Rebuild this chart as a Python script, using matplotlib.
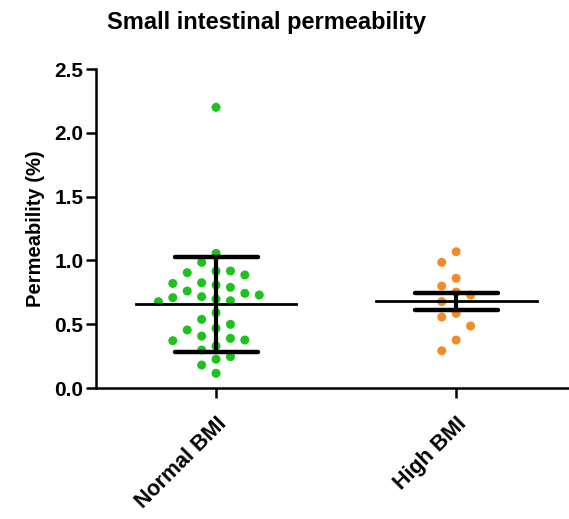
import numpy as np
import matplotlib.pyplot as plt

plt.rcParams['font.family'] = ['Liberation Sans', 'DejaVu Sans']

groups = ['Normal BMI', 'High BMI']
normal_bmi = [2.20, 1.055, 0.985, 0.917, 0.886, 0.904, 0.917, 0.825, 0.789, 0.760,
              0.807, 0.820, 0.729, 0.708, 0.684, 0.677, 0.697, 0.716, 0.742, 0.590,
              0.538, 0.499, 0.455, 0.468, 0.389, 0.376, 0.371, 0.407, 0.329, 0.298,
              0.225, 0.245, 0.180, 0.115]
high_bmi = [1.068, 0.985, 0.860, 0.799, 0.752, 0.729, 0.677, 0.585, 0.556, 0.486,
            0.376, 0.292]
error_kind = ['sd', 'sem']   # error bar type per group
colors = ['#1ec21e', '#f28c28']


def swarm_offsets(values, step=0.06, min_gap=0.1):
    # simple grid beeswarm: put each point in the slot nearest the centre
    # where it does not overlap a point already placed in that slot
    order = np.argsort(values)[::-1]
    slots = {}
    offs = np.zeros(len(values))
    cand = [0]
    for k in range(1, 10):
        cand += [-k, k]
    for i in order:
        v = values[i]
        for c in cand:
            taken = slots.get(c, [])
            if all(abs(v - t) >= min_gap for t in taken):
                slots.setdefault(c, []).append(v)
                offs[i] = c * step
                break
    return offs


fig = plt.figure(figsize=(5.69, 5.19), dpi=100)
ax = fig.add_axes([0.1687, 0.2524, 0.8313, 0.6146])

for pos, (vals, kind, col) in enumerate(zip([normal_bmi, high_bmi], error_kind, colors)):
    vals = np.array(vals)
    offs = swarm_offsets(vals)
    ax.scatter(pos + offs, vals, s=42, color=col, edgecolors='none', zorder=2)
    m = vals.mean()
    sd = vals.std(ddof=1)
    err = sd if kind == 'sd' else sd / np.sqrt(len(vals))
    ax.plot([pos - 0.335, pos + 0.335], [m, m], color='black', lw=2, zorder=3)
    ax.plot([pos, pos], [m - err, m + err], color='black', lw=3, zorder=3)
    for y in (m - err, m + err):
        ax.plot([pos - 0.173, pos + 0.173], [y, y], color='black', lw=3.2,
                solid_capstyle='round', zorder=3)

ax.set_xlim(-0.5, 1.47)
ax.set_ylim(0, 2.5)
ax.set_yticks(np.arange(0, 2.51, 0.5))
ax.set_yticklabels([f'{t:.1f}' for t in np.arange(0, 2.51, 0.5)],
                   fontsize=15, fontweight='bold')
ax.set_xticks(range(len(groups)))
ax.set_xticklabels(groups, rotation=45, ha='right', va='top',
                   rotation_mode='anchor', fontsize=15.5, fontweight='bold')
ax.set_ylabel('Permeability (%)', fontsize=14.5, fontweight='bold', labelpad=7)

for s in ['top', 'right']:
    ax.spines[s].set_visible(False)
for s in ['left', 'bottom']:
    ax.spines[s].set_linewidth(1.8)
ax.tick_params(axis='both', direction='out', length=7, width=1.8, pad=2)
ax.tick_params(axis='x', pad=11)

fig.text(0.4675, 0.957, 'Small intestinal permeability', ha='center', va='center',
         fontsize=17, fontweight='bold')

fig.savefig('out.png', dpi=100)
